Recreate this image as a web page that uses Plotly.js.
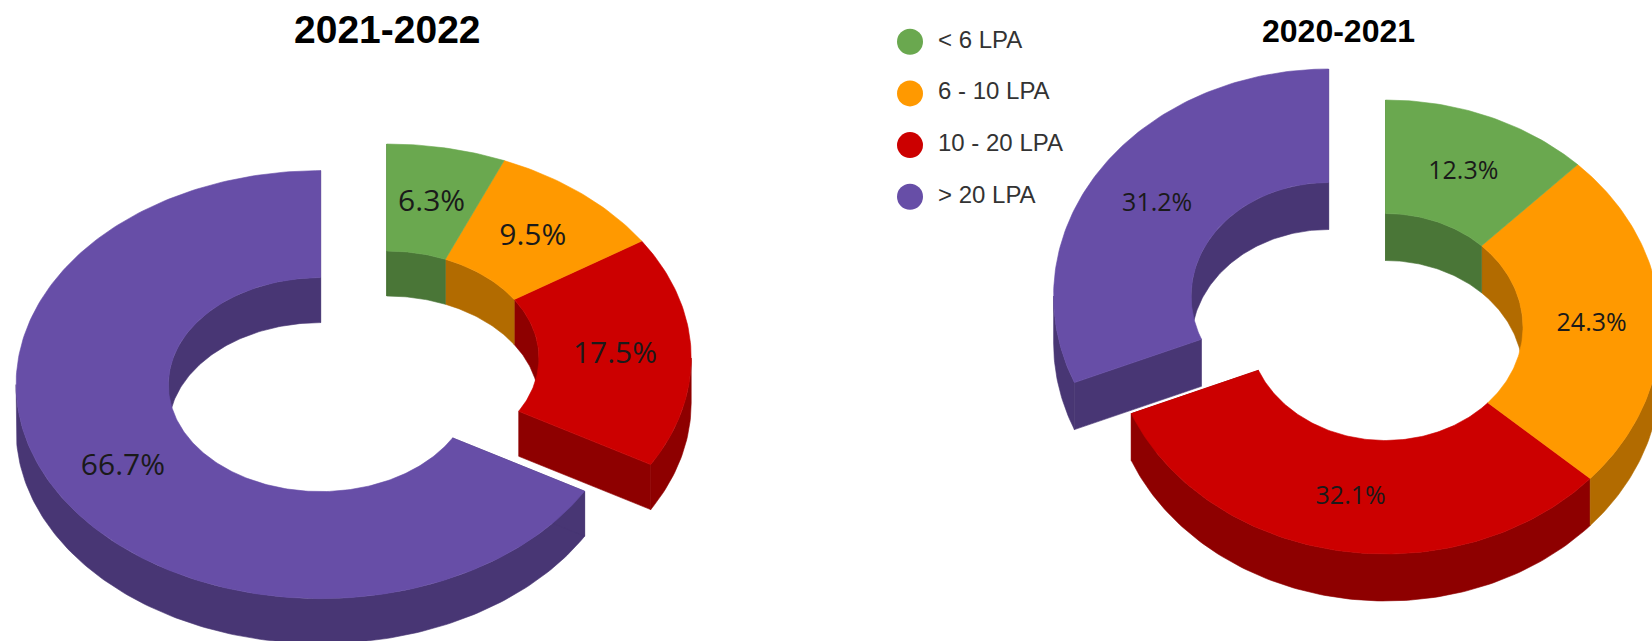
<!DOCTYPE html>
<html>
<head>
<meta charset="utf-8">
<script src="https://cdn.plot.ly/plotly-3.0.1.min.js"></script>
<style>html,body{margin:0;padding:0;background:#fff;overflow:hidden}#chart{width:1652px;height:641px}</style>
</head>
<body>
<div id="chart"></div>
<script>
// ---- data ----
const categories = ['< 6 LPA', '6 - 10 LPA', '10 - 20 LPA', '> 20 LPA'];
const values2021_22 = [6.3, 9.5, 17.5, 66.7];
const values2020_21 = [12.3, 24.3, 32.1, 31.2];
const topColors = ['#6AA84F', '#FF9900', '#CC0000', '#674EA7'];
const sideColors = ['#4A7637', '#B26B00', '#8E0000', '#483674'];

// ---- geometry of the two tilted rings (pixel space of the axes) ----
const rings = [
  {title: '2021-2022', values: values2021_22, rx: 304.5, ry: 214, hole: 0.5, depth: 45,
   centers: [[386.7, 358], [386.7, 358], [386.7, 358], [320.6, 384.6]],
   labelSize: 30, labelDy: 2.5, titleX: 387.5, titleY: 29.5, titleSize: 39},
  {title: '2020-2021', values: values2020_21, rx: 275, ry: 227, hole: 0.5, depth: 47,
   centers: [[1385.5, 327], [1385.5, 327], [1385.5, 327], [1328.6, 296]],
   labelSize: 25, labelDy: 3, titleX: 1338.5, titleY: 31, titleSize: 32}
];

const traces = [];
const deg = Math.PI / 180;

function arc(c, rx, ry, a0, a1, dz) {
  const n = Math.max(2, Math.ceil(Math.abs(a1 - a0)));
  const xs = [], ys = [];
  for (let i = 0; i <= n; i++) {
    const a = (a0 + (a1 - a0) * i / n) * deg;
    xs.push(c[0] + rx * Math.sin(a));
    ys.push(c[1] - ry * Math.cos(a) + dz);
  }
  return [xs, ys];
}
function band(p, q, color, name) {
  // closes arc p with reversed arc q into one filled polygon
  traces.push({
    type: 'scatter', mode: 'lines', fill: 'toself', fillcolor: color,
    x: p[0].concat(q[0].slice().reverse()).concat([p[0][0]]),
    y: p[1].concat(q[1].slice().reverse()).concat([p[1][0]]),
    line: {color: color, width: 0.6}, hoverinfo: name ? 'text' : 'skip',
    text: name || '', showlegend: false
  });
}

rings.forEach(r => {
  const total = r.values.reduce((s, v) => s + v, 0);
  let acc = 0;
  const slices = r.values.map((v, i) => {
    const s = {i, a0: acc / total * 360, a1: (acc + v) / total * 360, v, c: r.centers[i]};
    acc += v;
    return s;
  });
  const irx = r.rx * r.hole, iry = r.ry * r.hole;
  // exploded part first, so it sits behind the rest
  const order = slices.slice().reverse();

  // walls
  order.forEach(s => {
    const col = sideColors[s.i];
    // inner wall: only the far half of the hole is seen
    const ia0 = s.a0 < 90 ? s.a0 : (s.a0 < 270 ? 270 : s.a0);
    const ia1 = s.a1 > 90 && s.a0 < 90 ? 90 : s.a1;
    if (s.a0 < 90 || s.a1 > 270) {
      band(arc(s.c, irx, iry, ia0, ia1, 0), arc(s.c, irx, iry, ia0, ia1, r.depth), col);
    }
    // outer wall: only the near half is seen
    const oa0 = Math.max(s.a0, 90), oa1 = Math.min(s.a1, 270);
    if (oa1 > oa0) {
      band(arc(s.c, r.rx, r.ry, oa0, oa1, 0), arc(s.c, r.rx, r.ry, oa0, oa1, r.depth), col);
    }
  });
  // cut faces that look towards the viewer, at the ends of each separated block
  slices.forEach((s, k) => {
    const next = slices[(k + 1) % slices.length];
    if (next.c[0] !== s.c[0] || next.c[1] !== s.c[1]) {
      // end of this slice; start of the next one
      [[s, s.a1], [next, next.a0]].forEach(([sl, a]) => {
        const ax = a * deg;
        const ie = [[sl.c[0] + irx * Math.sin(ax)], [sl.c[1] - iry * Math.cos(ax)]];
        const oe = [[sl.c[0] + r.rx * Math.sin(ax)], [sl.c[1] - r.ry * Math.cos(ax)]];
        const p = [[ie[0][0], oe[0][0]], [ie[1][0], oe[1][0]]];
        const q = [[ie[0][0], oe[0][0]], [ie[1][0] + r.depth, oe[1][0] + r.depth]];
        band(p, q, sideColors[sl.i]);
      });
    }
  });
  // top surfaces
  order.forEach(s => {
    band(arc(s.c, r.rx, r.ry, s.a0, s.a1, 0), arc(s.c, irx, iry, s.a0, s.a1, 0), topColors[s.i],
         categories[s.i] + ': ' + s.v.toFixed(1) + '%');
  });
  // value labels in the middle of each band
  const mid = 0.75;
  traces.push({
    type: 'scatter', mode: 'text', showlegend: false, hoverinfo: 'skip',
    x: slices.map(s => s.c[0] + mid * r.rx * Math.sin((s.a0 + s.a1) / 2 * deg)),
    y: slices.map(s => s.c[1] - mid * r.ry * Math.cos((s.a0 + s.a1) / 2 * deg) + r.labelDy),
    text: slices.map(s => s.v.toFixed(1) + '%'),
    textposition: 'middle center',
    textfont: {family: '"Open Sans", "Noto Sans", sans-serif', size: r.labelSize, color: '#1a1a1a'},
    cliponaxis: false
  });
});

// legend block
const legendX = 910, legendTextX = 938, legendY = 41.7, legendStep = 51.7;
categories.forEach((name, i) => {
  traces.push({
    type: 'scatter', mode: 'markers', name: name, showlegend: false, hoverinfo: 'text', text: name,
    x: [legendX], y: [legendY + i * legendStep],
    marker: {size: 26, color: topColors[i], symbol: 'circle'}
  });
  traces.push({
    type: 'scatter', mode: 'text', showlegend: false, hoverinfo: 'skip',
    x: [legendTextX], y: [legendY + i * legendStep], text: [name], textposition: 'middle right',
    textfont: {family: '"Liberation Sans", Arial, sans-serif', size: 24, color: '#333333'}
  });
});

const layout = {
  width: 1652, height: 641,
  margin: {l: 0, r: 0, t: 0, b: 0},
  paper_bgcolor: '#ffffff', plot_bgcolor: '#ffffff',
  showlegend: false,
  xaxis: {range: [0, 1652], visible: false, fixedrange: true},
  yaxis: {range: [641, 0], visible: false, fixedrange: true},
  annotations: rings.map(r => ({
    text: '<b>' + r.title + '</b>', x: r.titleX, y: r.titleY, xref: 'x', yref: 'y', showarrow: false,
    xanchor: 'center', yanchor: 'middle',
    font: {family: '"Liberation Sans", Arial, sans-serif', size: r.titleSize, color: '#000000'}
  }))
};
Plotly.newPlot('chart', traces, layout, {displayModeBar: false, responsive: false});
</script>
</body>
</html>
